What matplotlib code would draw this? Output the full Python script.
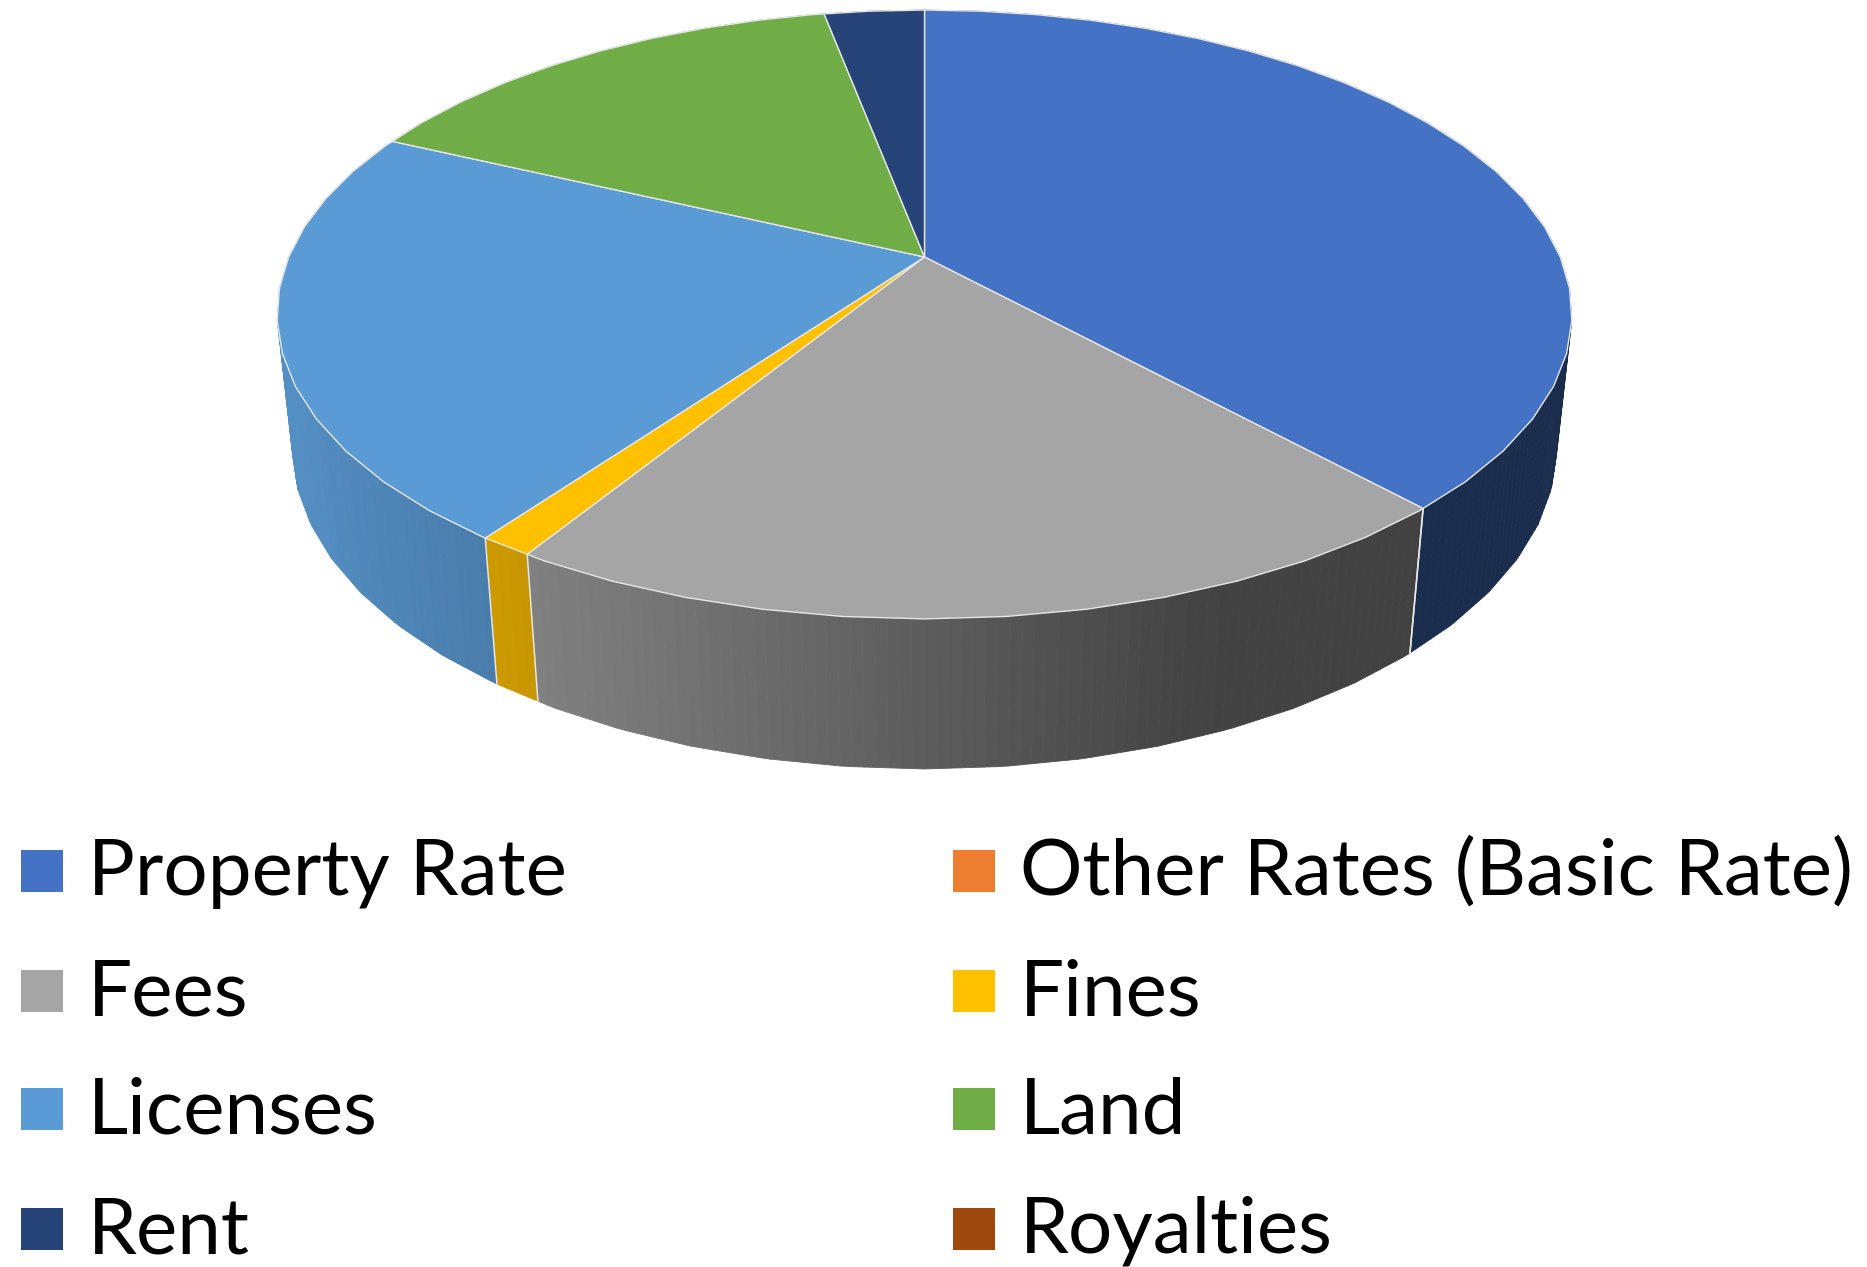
import numpy as np
import matplotlib.pyplot as plt
from matplotlib.collections import PolyCollection
from matplotlib.colors import to_rgb
from matplotlib.patches import Polygon, Rectangle

# shares in percent
categories = ['Property Rate', 'Other Rates (Basic Rate)', 'Fees', 'Fines',
              'Licenses', 'Land', 'Rent', 'Royalties']
shares = [38.2, 0.0, 20.6, 1.15, 22.05, 15.0, 3.0, 0.0]
colors = ['#4472C4', '#ED7D31', '#A5A5A5', '#FFC000',
          '#5B9BD5', '#70AD47', '#264478', '#9E480E']

# camera for the tilted disc, in pixels
APEX_X, APEX_Y = 924.5, 257
ELEV = np.radians(27.5)
DIST = 4.698
FOCAL = 2987
DEPTH = 0.237
FACET = np.radians(6)  # the pie outline is a polygon, not a true circle


def project(theta, z=0.0):
    # theta runs clockwise from the top of the pie
    half = FACET / 2
    r = np.cos(half) / np.cos(np.mod(theta, FACET) - half)
    x = r * np.sin(theta)
    y = r * np.cos(theta)
    v = y * np.sin(ELEV) + z * np.cos(ELEV)
    w = DIST + y * np.cos(ELEV) - z * np.sin(ELEV)
    return APEX_X + FOCAL * x / w, APEX_Y - FOCAL * v / w


def wall_shade(px):
    # side walls get darker from left to right
    return np.interp(px, [280, 525, 1200, 1600], [0.92, 0.78, 0.41, 0.39])


def arc_angles(start, end):
    # slice ends plus every facet corner between them
    corners = np.arange(np.ceil(start / FACET), np.floor(end / FACET) + 1) * FACET
    return np.unique(np.r_[start, corners, end])


fig = plt.figure(figsize=(18.67, 12.67), dpi=100)
ax = fig.add_axes([0, 0, 1, 1])
ax.set_xlim(0, 1867)
ax.set_ylim(1267, 0)
ax.axis('off')

EDGE = '#E6E6E6'
edges = np.radians(np.cumsum([0] + shares) * 3.6)

# side walls first, the top faces cover what is behind them
for i, share in enumerate(shares):
    if share == 0:
        continue
    steps = max(3, int(share * 4))
    th = np.linspace(edges[i], edges[i + 1], steps + 1)
    tx, ty = project(th)
    bx, by = project(th, -DEPTH)
    quads = []
    cols = []
    base = np.array(to_rgb(colors[i]))
    for j in range(steps):
        quads.append([(tx[j], ty[j]), (tx[j + 1], ty[j + 1]),
                      (bx[j + 1], by[j + 1]), (bx[j], by[j])])
        shade = wall_shade((tx[j] + tx[j + 1]) / 2)
        cols.append(base * shade)
    ax.add_collection(PolyCollection(quads, facecolors=cols, edgecolors='face',
                                     linewidths=0.6, zorder=1))

for t in edges:
    if np.cos(t) < 0:
        tx, ty = project(t)
        bx, by = project(t, -DEPTH)
        ax.plot([tx, bx], [ty, by], color=EDGE, lw=1.1, zorder=2)

# top faces
for i, share in enumerate(shares):
    if share == 0:
        continue
    th = arc_angles(edges[i], edges[i + 1])
    tx, ty = project(th)
    pts = np.column_stack([np.r_[APEX_X, tx], np.r_[APEX_Y, ty]])
    ax.add_patch(Polygon(pts, closed=True, facecolor=colors[i], edgecolor=EDGE,
                         linewidth=1.0, joinstyle='round', zorder=3))

# legend, two columns
box_x = [21, 953]
text_x = [88, 1020]
baselines = [895, 1015, 1133, 1253]
for i, name in enumerate(categories):
    col = i % 2
    row = i // 2
    ax.add_patch(Rectangle((box_x[col], baselines[row] - 45), 42, 42,
                           facecolor=colors[i], edgecolor='none', zorder=3))
    ax.text(text_x[col], baselines[row], name, family='Lato', fontsize=56.3,
            color='black', va='baseline', ha='left')

fig.savefig('out.png', dpi=100)
